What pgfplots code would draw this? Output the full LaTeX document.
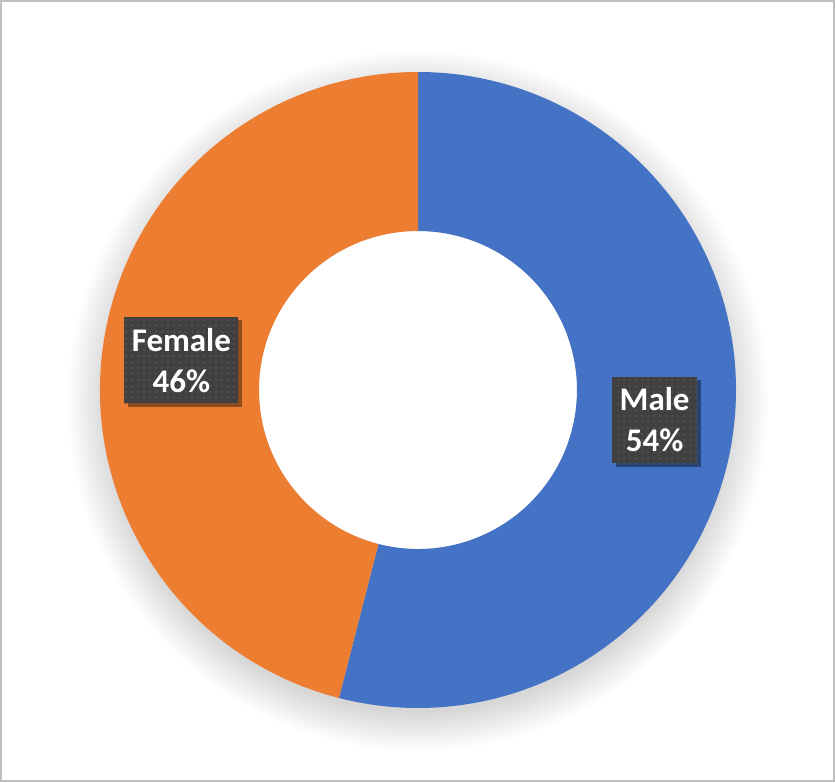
\documentclass[border=0pt]{standalone}
\usepackage{pgfplots}
\pgfplotsset{compat=1.18}
\usepackage{pgfplotstable}
\usetikzlibrary{shadows,patterns}
\usepackage{fontspec}
\setmainfont{Carlito}

\definecolor{malecol}{HTML}{4472C4}
\definecolor{femalecol}{HTML}{ED7D31}
\definecolor{boxgray}{HTML}{404040}
\definecolor{framegray}{HTML}{BFBFBF}

\pgfkeys{/pgf/number format/assume math mode=true}
\tikzset{lbl/.style={fill=boxgray, text=white, align=center,
        font=\bfseries\fontsize{16.5}{20.5}\selectfont,
        inner xsep=3.7pt, inner ysep=5.5pt,
        postaction={pattern=dots, pattern color=white!13!boxgray},
        drop shadow={shadow xshift=1.8pt, shadow yshift=-1.8pt, fill=black, opacity=0.4}}}

\pgfplotstableread{
label value
Male 54
Female 46
}\genderdata

% sector angles from the data (clockwise from 12 o'clock)
\pgfplotstablegetelem{0}{value}\of\genderdata \pgfmathsetmacro\vMale{\pgfplotsretval}
\pgfplotstablegetelem{1}{value}\of\genderdata \pgfmathsetmacro\vFemale{\pgfplotsretval}
\pgfmathsetmacro\aStart{90}
\pgfmathsetmacro\aMid{90-3.6*\vMale}
\pgfmathsetmacro\aEnd{\aMid-3.6*\vFemale}
\pgfmathsetmacro\lMale{(\aStart+\aMid)/2}
\pgfmathsetmacro\lFemale{(\aMid+\aEnd)/2}
\def\Ro{159pt}
\def\Ri{79.5pt}
\def\Rm{119.25pt}

\begin{document}
\begin{tikzpicture}
\begin{axis}[x=0.5pt, y=0.5pt, xmin=0, xmax=835, ymin=0, ymax=782,
    axis lines=none, ticks=none, clip=false, anchor=origin, at={(0,0)}]
    % frame
    \draw[framegray, line width=1.2pt] (axis cs:1,1) rectangle (axis cs:834,781);
    % soft shadow under the ring
    \pgfplotsinvokeforeach{1,...,20}{
        \fill[black, opacity=0.009] (axis cs:418,381) circle[radius={155pt+#1*1pt}];
    }
    \fill[white] (axis cs:418,392) circle[radius=\Ri];
    % male sector
    \fill[malecol] (axis cs:418,392) ++(\aStart:\Ro) arc[start angle=\aStart, end angle=\aMid, radius=\Ro]
        -- ++({\aMid+180}:\Ri) arc[start angle=\aMid, end angle=\aStart, radius=\Ri] -- cycle;
    % female sector
    \fill[femalecol] (axis cs:418,392) ++(\aMid:\Ro) arc[start angle=\aMid, end angle=\aEnd, radius=\Ro]
        -- ++({\aEnd+180}:\Ri) arc[start angle=\aEnd, end angle=\aMid, radius=\Ri] -- cycle;
    % labels
    \path (axis cs:418,392) ++(\lMale:\Rm) node[lbl] {Male\\\pgfmathprintnumber{\vMale}\%};
    \path (axis cs:418,392) ++(\lFemale:\Rm) node[lbl] {Female\\\pgfmathprintnumber{\vFemale}\%};
\end{axis}
\pgfresetboundingbox
\path (0,0) rectangle (417.5pt,391pt);
\end{tikzpicture}
\end{document}
